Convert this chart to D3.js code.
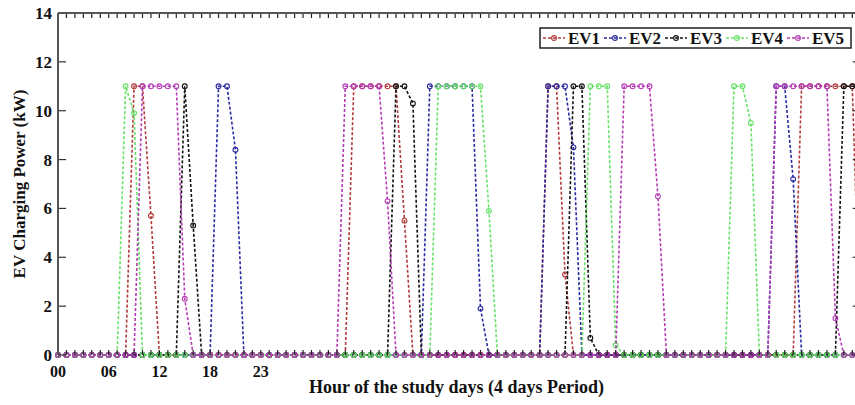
<!DOCTYPE html>
<html>
<head>
<meta charset="utf-8">
<script src="https://cdn.jsdelivr.net/npm/d3@7"></script>
<style>
  html, body { margin: 0; padding: 0; background: #fff; }
  svg { display: block; }
  text { font-family: "Liberation Serif", "Times New Roman", serif; font-weight: bold; fill: #111; }
</style>
</head>
<body>
<svg id="chart" width="855" height="405"></svg>
<script>
// ---- data (hour index 0..95, 4 days) ----
const seriesNames = ["EV1", "EV2", "EV3", "EV4", "EV5"];
const seriesColors = ["#b23a3a", "#2b2ba0", "#111111", "#66e066", "#b43cb4"];

const ev1 = [
  0,0,0,0,0,0,0,0,0,11,11,5.7,
  0,0,0,0,0,0,0,0,0,0,0,0,
  0,0,0,0,0,0,0,0,0,0,0,11,
  11,11,11,11,11,5.5,0,0,0,0,0,0,
  0,0,0,0,0,0,0,0,0,0,11,11,
  3.3,0,0,0,0,0,0,0,0,0,0,0,
  0,0,0,0,0,0,0,0,0,0,0,0,
  0,0,0,0,11,11,11,11,11,11,11,0
];
const ev2 = [
  0,0,0,0,0,0,0,0,0,0,0,0,
  0,0,0,0,0,0,0,11,11,8.4,0,0,
  0,0,0,0,0,0,0,0,0,0,0,0,
  0,0,0,0,0,0,0,0,11,11,11,11,
  11,11,1.9,0,0,0,0,0,0,0,11,11,
  11,8.5,0,0,0,0,0,0,0,0,0,0,
  0,0,0,0,0,0,0,0,0,0,0,0,
  0,11,11,7.2,0,0,0,0,0,0,0,0
];
const ev3 = [
  0,0,0,0,0,0,0,0,0,0,0,0,
  0,0,0,11,5.3,0,0,0,0,0,0,0,
  0,0,0,0,0,0,0,0,0,0,0,0,
  0,0,0,0,11,11,10.3,0,0,0,0,0,
  0,0,0,0,0,0,0,0,0,0,0,0,
  0,11,11,0.7,0,0,0,0,0,0,0,0,
  0,0,0,0,0,0,0,0,0,0,0,0,
  0,0,0,0,0,0,0,0,0,11,11,11
];
const ev4 = [
  0,0,0,0,0,0,0,0,11,9.9,0,0,
  0,0,0,0,0,0,0,0,0,0,0,0,
  0,0,0,0,0,0,0,0,0,0,0,0,
  0,0,0,0,0,0,0,0,0,11,11,11,
  11,11,11,5.9,0,0,0,0,0,0,0,0,
  0,0,0,11,11,11,0.4,0,0,0,0,0,
  0,0,0,0,0,0,0,0,11,11,9.5,0,
  0,0,0,0,0,0,0,0,0,0,0,0
];
const ev5 = [
  0,0,0,0,0,0,0,0,0,0,11,11,
  11,11,11,2.3,0,0,0,0,0,0,0,0,
  0,0,0,0,0,0,0,0,0,0,11,11,
  11,11,11,6.3,0,0,0,0,0,0,0,0,
  0,0,0,0,0,0,0,0,0,0,0,0,
  0,0,0,0,0,0,0,11,11,11,11,6.5,
  0,0,0,0,0,0,0,0,0,0,0,0,
  0,11,11,11,11,11,11,11,1.5,0,0,0
];
const seriesValues = [ev1, ev2, ev3, ev4, ev5];

const xTickValues = [0, 6, 12, 18, 24];
const xTickLabels = ["00", "06", "12", "18", "23"];
const yTickValues = [0, 2, 4, 6, 8, 10, 12, 14];

const xLabel = "Hour of the study days (4 days Period)";
const yLabel = "EV Charging Power (kW)";

// ---- layout ----
const svg = d3.select("#chart");
const pLeft = 58, pRight = 860.75, pTop = 13, pBottom = 355;
const x = d3.scaleLinear().domain([0, 95]).range([pLeft, pRight]);
const y = d3.scaleLinear().domain([0, 14]).range([pBottom, pTop]);
const hours = d3.range(0, 96);

// ---- data lines ----
const line = d3.line().x((d, i) => x(i)).y(d => y(d));
const g = svg.append("g");
seriesValues.forEach((vals, k) => {
  const col = seriesColors[k];
  g.append("path")
    .datum(vals)
    .attr("d", line)
    .attr("fill", "none")
    .attr("stroke", col)
    .attr("stroke-width", 1.6)
    .attr("stroke-dasharray", "3,2");
  g.selectAll(null)
    .data(vals)
    .enter().append("circle")
    .attr("cx", (d, i) => x(i))
    .attr("cy", d => y(d))
    .attr("r", 2.4)
    .attr("fill", "none")
    .attr("stroke", col)
    .attr("stroke-width", 1.1);
});

// ---- frame and ticks ----
const frameCol = "#555";
const ax = svg.append("g");
ax.selectAll(".tt").data(hours).enter().append("line")
  .attr("x1", d => x(d)).attr("x2", d => x(d))
  .attr("y1", pTop).attr("y2", pTop + 5)
  .attr("stroke", "#222").attr("stroke-width", 1.2);
ax.selectAll(".bt").data(hours).enter().append("line")
  .attr("x1", d => x(d)).attr("x2", d => x(d))
  .attr("y1", pBottom).attr("y2", pBottom - 5)
  .attr("stroke", "#222").attr("stroke-width", 1.2);
ax.selectAll(".yl").data(yTickValues).enter().append("line")
  .attr("x1", pLeft).attr("x2", pLeft + 8)
  .attr("y1", d => y(d)).attr("y2", d => y(d))
  .attr("stroke", "#333").attr("stroke-width", 1.2);
ax.selectAll(".yr").data(yTickValues).enter().append("line")
  .attr("x1", pRight).attr("x2", pRight - 8)
  .attr("y1", d => y(d)).attr("y2", d => y(d))
  .attr("stroke", "#333").attr("stroke-width", 1.2);
ax.append("line").attr("x1", pLeft).attr("x2", pLeft).attr("y1", pTop).attr("y2", pBottom)
  .attr("stroke", frameCol).attr("stroke-width", 2);
ax.append("line").attr("x1", pLeft).attr("x2", pRight).attr("y1", pTop).attr("y2", pTop)
  .attr("stroke", frameCol).attr("stroke-width", 2);
ax.append("line").attr("x1", pRight).attr("x2", pRight).attr("y1", pTop).attr("y2", pBottom)
  .attr("stroke", frameCol).attr("stroke-width", 2);

ax.selectAll(".ylab").data(yTickValues).enter().append("text")
  .attr("x", pLeft - 6).attr("y", d => y(d) + 6)
  .attr("text-anchor", "end").attr("font-size", 17)
  .text(d => d);
ax.selectAll(".xlab").data(xTickValues).enter().append("text")
  .attr("x", d => x(d)).attr("y", 377)
  .attr("text-anchor", "middle").attr("font-size", 16)
  .text((d, i) => xTickLabels[i]);

svg.append("text")
  .attr("x", (pLeft + 855) / 2).attr("y", 393)
  .attr("text-anchor", "middle").attr("font-size", 18)
  .text(xLabel);
svg.append("text")
  .attr("transform", `translate(25, ${(pTop + pBottom) / 2}) rotate(-90)`)
  .attr("text-anchor", "middle").attr("font-size", 17)
  .text(yLabel);

// ---- legend ----
const lg = svg.append("g");
lg.append("rect").attr("x", 540).attr("y", 28).attr("width", 311).attr("height", 20)
  .attr("fill", "#fff").attr("stroke", "#222").attr("stroke-width", 1.5);
seriesNames.forEach((name, k) => {
  const tx = 568 + k * 61;
  const lx1 = tx - 25, lx2 = tx - 3;
  lg.append("line").attr("x1", lx1).attr("x2", lx2).attr("y1", 38).attr("y2", 38)
    .attr("stroke", seriesColors[k]).attr("stroke-width", 1.4).attr("stroke-dasharray", "3,2");
  lg.append("circle").attr("cx", (lx1 + lx2) / 2).attr("cy", 38).attr("r", 2.4)
    .attr("fill", "none").attr("stroke", seriesColors[k]).attr("stroke-width", 1.1);
  lg.append("text").attr("x", tx).attr("y", 44).attr("font-size", 17).text(name);
});
</script>
</body>
</html>
